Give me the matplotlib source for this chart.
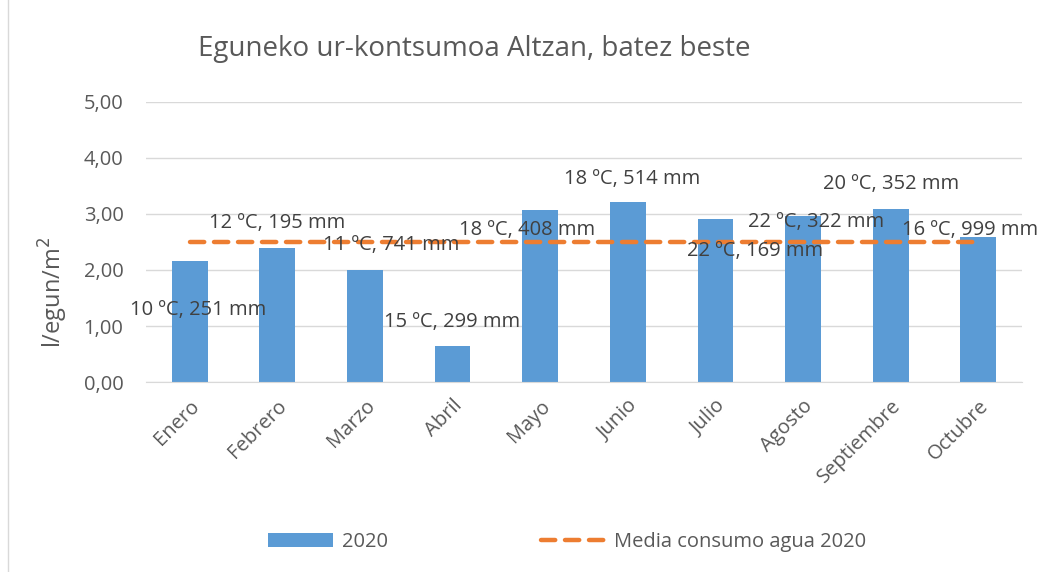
import matplotlib.pyplot as plt
from matplotlib.patches import Rectangle

plt.rcParams['font.family'] = ['Open Sans', 'DejaVu Sans']

# data
months = ['Enero', 'Febrero', 'Marzo', 'Abril', 'Mayo', 'Junio',
          'Julio', 'Agosto', 'Septiembre', 'Octubre']
consumo_2020 = [2.16, 2.39, 2.00, 0.64, 3.07, 3.21, 2.91, 2.96, 3.09, 2.59]
media_2020 = [2.50] * 10
labels = ['10 ºC, 251 mm', '12 ºC, 195 mm', '11 ºC, 741 mm', '15 ºC, 299 mm',
          '18 ºC, 408 mm', '18 ºC, 514 mm', '22 ºC, 169 mm', '22 ºC, 322 mm',
          '20 ºC, 352 mm', '16 ºC, 999 mm']

# label placement (offsets from each month, in data units)
label_dx = [0.1, 0.0, 0.3, 0.0, -0.15, 0.05, 0.45, 0.15, 0.0, -0.1]
label_y = [1.29, 2.84, 2.45, 1.07, 2.71, 3.62, 2.33, 2.86, 3.54, 2.71]

grey = '#595959'
fig = plt.figure(figsize=(10.41, 5.72), dpi=100)
ax = fig.add_axes([0.140, 0.332, 0.842, 0.490])

x = list(range(len(months)))
bars = ax.bar(x, consumo_2020, width=0.41, color='#5B9BD5', label='2020', zorder=2)
line, = ax.plot(x, media_2020, color='#ED7D31', lw=3.2, ls=(0, (3.2, 2.2)),
                dash_capstyle='round', label='Media consumo agua 2020', zorder=3)

for i, t in enumerate(labels):
    ax.text(x[i] + label_dx[i], label_y[i], t, ha='center', va='center',
            fontsize=14.5, color='#404040', zorder=4)

ax.set_ylim(0, 5)
ax.set_xlim(-0.5, len(months) - 0.5)
ax.set_yticks([0, 1, 2, 3, 4, 5])
ax.set_yticklabels(['0,00', '1,00', '2,00', '3,00', '4,00', '5,00'])
ax.set_xticks(x)
ax.set_xticklabels(months, rotation=45, ha='right', rotation_mode='anchor')
ax.tick_params(axis='both', length=0, labelsize=14.5, labelcolor=grey)
ax.tick_params(axis='y', pad=16)
ax.tick_params(axis='x', pad=10)
ax.grid(axis='y', color='#d9d9d9', lw=1, zorder=0)
for s in ['top', 'right', 'left']:
    ax.spines[s].set_visible(False)
ax.spines['bottom'].set_color('#d9d9d9')
ax.set_axisbelow(True)

ax.set_ylabel('l/egun/m$^2$', fontsize=17, color=grey)
ax.yaxis.set_label_coords(-0.086, 0.32)
fig.text(0.456, 0.915, 'Eguneko ur-kontsumoa Altzan, batez beste',
         ha='center', va='center', fontsize=20, color=grey)

fig.legend(handles=[bars, line], loc='center', bbox_to_anchor=(0.545, 0.053),
           ncol=2, frameon=False, fontsize=14.5, labelcolor=grey,
           handlelength=3.2, columnspacing=7.6, handletextpad=0.45)

fig.patches.append(Rectangle((0.008, -0.01), 1.0, 1.02, transform=fig.transFigure,
                             fill=False, edgecolor='#d9d9d9', lw=1))

fig.savefig('out.png', dpi=100)
